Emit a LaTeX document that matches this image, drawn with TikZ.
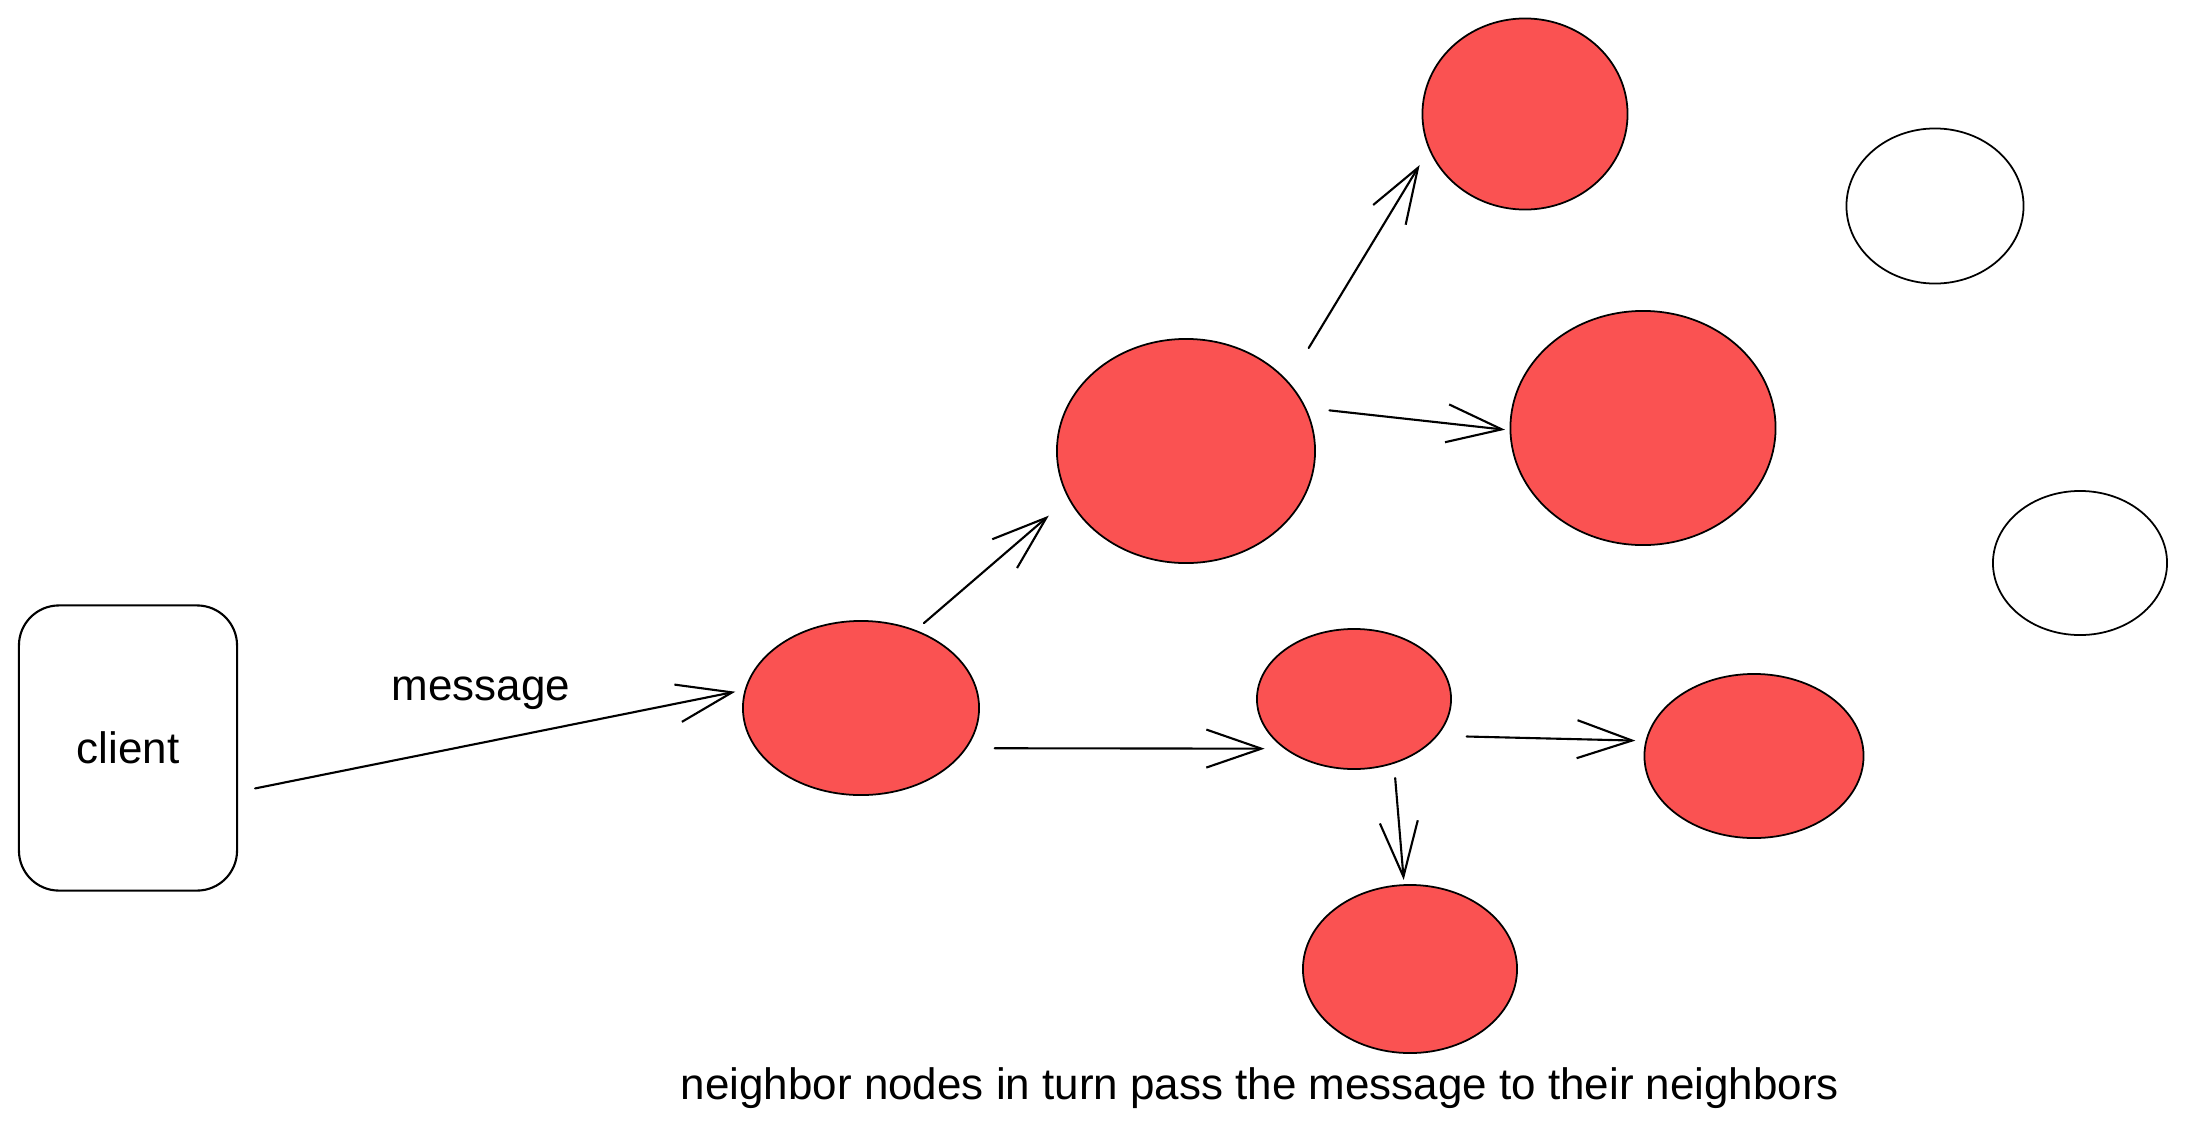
\documentclass[tikz,border=0pt]{standalone}
\usepackage{fontspec}
\setmainfont{Liberation Sans}
\usetikzlibrary{arrows.meta,shapes.geometric}
\definecolor{nodered}{HTML}{FA5252}
\begin{document}
\begin{tikzpicture}[x=0.01cm,y=-0.01cm,
  peer/.style={ellipse, draw, line width=0.5pt, fill=nodered, inner sep=0pt, outer sep=0pt},
  idle/.style={ellipse, draw, line width=0.5pt, fill=white, inner sep=0pt, outer sep=0pt},
  clientbox/.style={rectangle, rounded corners=4mm, draw, line width=0.6pt, minimum width=2.18cm, minimum height=2.85cm, inner sep=0pt, outer sep=0pt},
  link/.style={line width=0.6pt, line cap=round, -{Straight Barb[length=5.5mm,width=3.8mm]}},
  lbl/.style={font=\fontsize{12.5}{15}\selectfont}
]
\useasboundingbox (0,0) rectangle (2187,1133);
\node[clientbox, lbl] (client) at (128,748) {client};
\node[peer, minimum width=2.36cm, minimum height=1.74cm] (A) at (861,708) {};
\node[peer, minimum width=2.58cm, minimum height=2.24cm] (B) at (1186,451) {};
\node[peer, minimum width=2.05cm, minimum height=1.91cm] (C) at (1525,114) {};
\node[peer, minimum width=2.65cm, minimum height=2.34cm] (D) at (1643,428) {};
\node[idle, minimum width=1.77cm, minimum height=1.55cm] (E) at (1935,206) {};
\node[idle, minimum width=1.74cm, minimum height=1.44cm] (F) at (2080,563) {};
\node[peer, minimum width=1.94cm, minimum height=1.40cm] (G) at (1354,699) {};
\node[peer, minimum width=2.19cm, minimum height=1.64cm] (H) at (1754,756) {};
\node[peer, minimum width=2.14cm, minimum height=1.68cm] (I) at (1410,969) {};
\node[lbl] (msg) at (481,693) {message};
\node[lbl] (caption) at (1260,1088) {neighbor nodes in turn pass the message to their neighbors};
\coordinate (msgend) at ([xshift=-1.03mm,yshift=-0.2mm]A.171.6);
\draw[link, shorten <=1.84mm] (client.-22.3) -- (msgend);
\draw[link, shorten <=1.15mm, shorten >=2.66mm] (A.55.6) -- (B.202.3);
\draw[link, shorten <=4mm, shorten >=1.9mm] (B.34.7) -- (C.200.1);
\draw[link, shorten <=2.45mm, shorten >=0.55mm] (B.20.3) -- (D.181.6);
\draw[link, shorten <=2.9mm, shorten >=2.1mm] (A.-21.5) -- (G.216.4);
\draw[link, shorten <=3mm, shorten >=1.1mm] (G.-24.2) -- (H.172.1);
\draw[link, shorten <=1.52mm, shorten >=0.52mm] (G.-58) -- (I.94.5);
\end{tikzpicture}
\end{document}
